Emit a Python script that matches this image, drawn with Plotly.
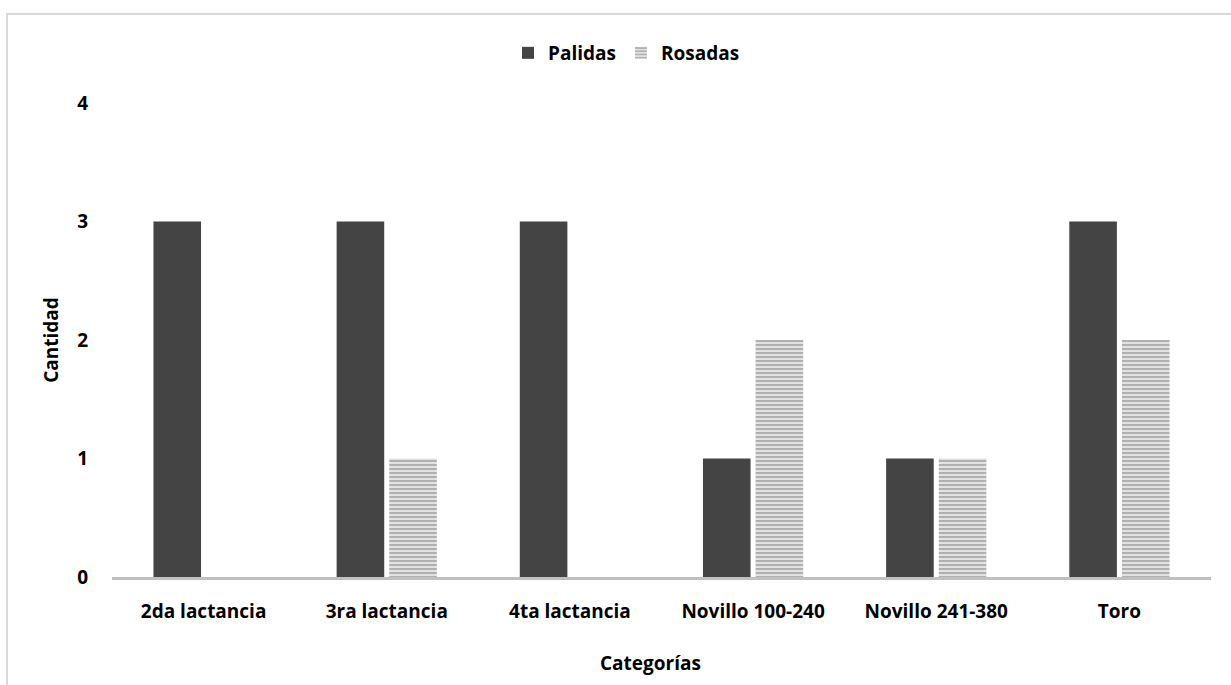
import plotly.graph_objects as go

categorias = ["2da lactancia", "3ra lactancia", "4ta lactancia",
              "Novillo 100-240", "Novillo 241-380", "Toro"]
palidas = [3, 3, 3, 1, 1, 3]
rosadas = [0, 1, 0, 2, 1, 2]
y_ticks = [0, 1, 2, 3, 4]

FONT = "Open Sans"
FS = 19

fig = go.Figure()
fig.add_trace(go.Bar(
    name="Palidas", x=categorias, y=palidas,
    marker=dict(color="#444444", line=dict(width=0)),
))
fig.add_trace(go.Bar(
    name="Rosadas", x=categorias, y=rosadas,
    marker=dict(
        color="#dcdcdc", line=dict(width=0),
        pattern=dict(shape="-", fgcolor="#ababab", bgcolor="#e2e2e2",
                     size=4, solidity=0.45, fillmode="replace"),
    ),
))

L, R, T, B = 112, 20, 103, 108
W, H = 1231, 685
pw = W - L - R
ph = H - T - B

bold = dict(family=FONT, size=FS, color="#000000", weight="bold")

fig.update_layout(
    width=W, height=H,
    margin=dict(l=L, r=R, t=T, b=B),
    paper_bgcolor="white", plot_bgcolor="white",
    barmode="group", bargap=0.425, bargroupgap=0.096,
    font=bold,
    showlegend=True,
    legend=dict(orientation="h", x=(508 - L) / pw, xanchor="left",
                y=(H - B - 53) / ph, yanchor="middle",
                font=bold, itemwidth=30, traceorder="normal"),
    xaxis=dict(showgrid=False, showline=True, linecolor="#c0c0c0", linewidth=3,
               ticks="", ticklabelstandoff=15, tickfont=bold),
    yaxis=dict(range=[0, 4], tickvals=y_ticks, showgrid=False, zeroline=False,
               showline=False, ticks="", ticklabelstandoff=23, tickfont=bold,
               title=dict(text="Cantidad", standoff=13, font=bold)),
    annotations=[dict(text="Categorías", xref="paper", yref="paper",
                      x=(650 - L) / pw, y=-(663 - (H - B)) / ph,
                      xanchor="center", yanchor="middle", showarrow=False,
                      font=bold)],
    shapes=[dict(type="rect", xref="paper", yref="paper",
                 x0=(7 - L) / pw, x1=1.2, y0=-0.5, y1=(H - B - 14) / ph,
                 line=dict(color="#d9d9d9", width=2), fillcolor="rgba(0,0,0,0)",
                 layer="below")],
)

fig.write_html("out.html")
